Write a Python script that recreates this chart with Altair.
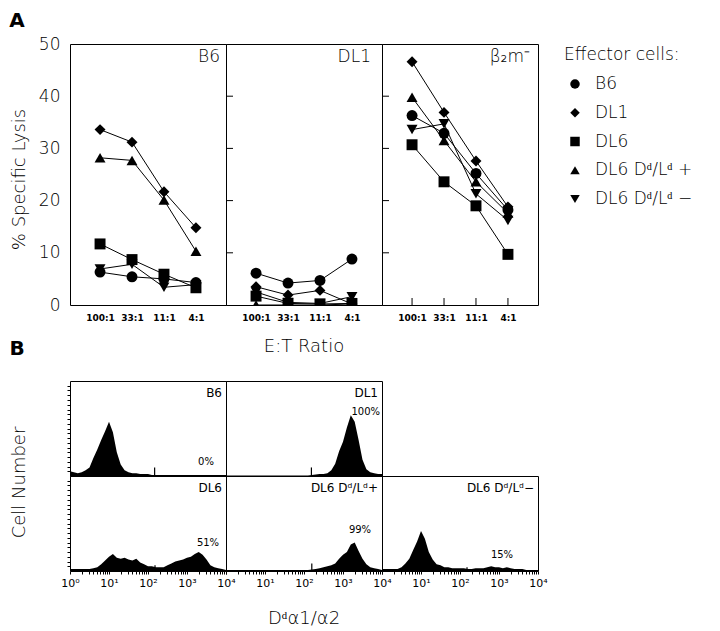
import math
import altair as alt
import pandas as pd

FONT = "DejaVu Sans"
LIGHT = 200

# ---------------- Panel A data ----------------
ratios = ["100:1", "33:1", "11:1", "4:1"]
effectors = ["B6", "DL1", "DL6", "DL6 Dᵈ/Lᵈ +", "DL6 Dᵈ/Lᵈ −"]
shapes = ["circle", "diamond", "square", "triangle-up", "triangle-down"]
targets = ["B6", "DL1", "β₂m⁻"]

# rows follow `effectors`, columns follow `ratios`
lysis_on_b6 = [
    [6.3, 5.4, 5.0, 4.3],
    [33.6, 31.2, 21.7, 14.8],
    [11.7, 8.7, 5.9, 3.3],
    [28.2, 27.7, 20.1, 10.3],
    [6.9, 7.8, 3.4, 3.9],
]
lysis_on_dl1 = [
    [6.1, 4.2, 4.7, 8.8],
    [3.5, 1.9, 2.8, 0.2],
    [1.7, 0.3, 0.2, 0.3],
    [0.0, 0.0, 0.0, 0.2],
    [2.5, 0.5, 0.3, 1.6],
]
lysis_on_b2m = [
    [36.3, 32.9, 25.2, 18.2],
    [46.6, 36.9, 27.6, 18.8],
    [30.7, 23.6, 19.0, 9.7],
    [39.8, 31.5, 23.6, 17.6],
    [33.6, 34.7, 21.3, 16.2],
]
y_ticks_a = [0, 10, 20, 30, 40, 50]
inner_ticks_a = [10, 20, 30, 40]

# ---------------- Panel B data ----------------
hist_names = ["B6", "DL1", "DL6", "DL6 Dᵈ/Lᵈ+", "DL6 Dᵈ/Lᵈ−"]
hist_pct = ["0%", "100%", "51%", "99%", "15%"]
hist_log_pos = [i / 10 for i in range(41)]  # bin positions, log10 units 0..4
hist_b6 = [5, 4, 3, 4, 6, 9, 19, 28, 38, 47, 57, 46, 25, 12, 6, 4, 3, 3, 2, 2,
           2, 1, 1, 1, 1, 1, 1, 1, 1, 1, 1, 1, 1, 1, 1, 1, 1, 1, 1, 1, 1]
hist_dl1 = [0.5, 0.5, 0.5, 0.5, 0.5, 0.5, 0.5, 0.5, 0.5, 0.5, 0.5, 0.5, 0.5, 0.5,
            0.5, 0.5, 0.5, 0.5, 0.5, 0.5, 0.5, 0.5, 1, 1.5, 2, 2, 3, 6, 13, 26,
            36, 51, 64, 57, 38, 17, 7, 4, 3, 2, 2]
hist_dl6 = [2, 2, 2, 2, 2, 2, 3, 4, 7, 11, 15, 18, 14, 13, 14, 12, 11, 13, 9, 7,
            5, 5, 4, 4, 4, 6, 8, 10, 11, 12, 14, 15, 18, 20, 17, 12, 6, 4, 3, 2, 1]
hist_dl6_pos = [1, 1, 1, 1, 1, 1, 1, 1, 1, 1, 1, 1, 1, 1, 1, 1, 1, 1, 1, 1,
                1, 1, 1.5, 2, 3, 4, 5, 6, 8, 13, 17, 20, 28, 30, 21, 13, 7, 4, 3, 2, 1]
hist_dl6_neg = [2, 2, 2, 2, 2, 4, 8, 13, 22, 31, 42, 34, 20, 12, 7, 6, 4, 4, 3, 3,
                3, 3, 2, 2, 3, 3, 3, 4, 5, 4, 4, 3, 4, 3, 2, 2, 2, 1, 1, 1, 1]
hist_values = [hist_b6, hist_dl1, hist_dl6, hist_dl6_pos, hist_dl6_neg]
spike_pos = [2.17, 2.19, 2.18, 2.20, 2.18]
spike_height = [9, 9, 6, 8, 4]
sup = {0: "⁰", 1: "¹", 2: "²", 3: "³", 4: "⁴"}

# ---------------- geometry / style ----------------
WA, HA = 156, 261
WB, HB = 156, 95
WL = 150
GAP = 76
SYM = 120

a_tables = [lysis_on_b6, lysis_on_dl1, lysis_on_b2m]
rows = []
for t, table in zip(targets, a_tables):
    for e, vals in zip(effectors, table):
        for r, v in zip(ratios, vals):
            rows.append({"target": t, "effector": e, "ratio": r, "value": v})
df_a = pd.DataFrame(rows)

shape_scale = alt.Scale(domain=effectors, range=shapes)
y_scale_a = alt.Scale(domain=[0, 50], nice=False)
x_scale_a = alt.Scale(type="point", padding=0.94)
x_axis_a = alt.Axis(title=None, labelFontSize=9, labelFontWeight="bold", labelFont=FONT,
                    labelColor="black", ticks=False, domain=False, grid=False,
                    labelPadding=8, labelAngle=0)
NOBOX = alt.ViewBackground(stroke="transparent")


def txt(text, x, y, size, align="center", weight=LIGHT, angle=0, baseline="middle"):
    return alt.Chart(pd.DataFrame({"t": [text]})).mark_text(
        align=align, baseline=baseline, fontSize=size, font=FONT, fontWeight=weight,
        angle=angle, color="black"
    ).encode(x=alt.value(x), y=alt.value(y), text="t:N")


def blank(w, h):
    return alt.Chart(pd.DataFrame({"t": [""]})).mark_text().encode(
        x=alt.value(0), y=alt.value(0), text="t:N"
    ).properties(width=w, height=h, view=NOBOX)


def a_panel(idx):
    t = targets[idx]
    d = df_a[df_a.target == t]
    if idx == 0:
        y_axis = alt.Axis(values=y_ticks_a, title="% Specific Lysis", titleFontSize=18,
                          titleFont=FONT, titleFontWeight=LIGHT, titleColor="black",
                          titleX=-51, titleY=135,
                          titleAngle=270, titleAlign="center", titleBaseline="middle",
                          labelFontSize=17, labelFont=FONT, labelFontWeight=LIGHT,
                          labelColor="black", labelPadding=10, ticks=False,
                          domain=False, grid=False)
    else:
        y_axis = None
    X = alt.X("ratio:N", sort=ratios, scale=x_scale_a, axis=x_axis_a)
    Y = alt.Y("value:Q", scale=y_scale_a, axis=y_axis)
    base = alt.Chart(d)
    lines = base.mark_line(color="black", strokeWidth=1, clip=True).encode(
        x=X, y=Y, detail="effector:N")
    pts = base.mark_point(filled=True, color="black", opacity=1, size=SYM, clip=True).encode(
        x=X, y=Y, shape=alt.Shape("effector:N", scale=shape_scale, legend=None))
    layers = [lines, pts]
    offs = [6, 11, 8][idx]
    layers.append(txt(t, WA - offs, 13, 17, align="right"))
    if idx > 0:
        tk = alt.Chart(pd.DataFrame({"value": inner_ticks_a})).mark_rule(
            color="black", strokeWidth=1).encode(
            y=Y, x=alt.value(0), x2=alt.value(7))
        layers.append(tk)
    if idx == 2:
        xt = alt.Chart(pd.DataFrame({"ratio": ratios})).mark_rule(
            color="black", strokeWidth=1).encode(
            x=X, y=alt.value(HA - 7), y2=alt.value(HA))
        layers.append(xt)
    if idx == 0:
        layers.append(txt("A", -53, -23, 20, weight="bold"))
    if idx == 1:
        layers.append(txt("E:T Ratio", WA / 2, 303, 18))
    return alt.layer(*layers).properties(width=WA, height=HA)


leg_df = pd.DataFrame({"effector": effectors})
leg_y = alt.Y("effector:N", sort=effectors,
              scale=alt.Scale(type="point", range=[40, 155], padding=0), axis=None)
leg_pts = alt.Chart(leg_df).mark_point(filled=True, color="black", opacity=1, size=90).encode(
    x=alt.value(37), y=leg_y, shape=alt.Shape("effector:N", scale=shape_scale, legend=None))
leg_txt = alt.Chart(leg_df).mark_text(align="left", baseline="middle", fontSize=17,
                                      font=FONT, fontWeight=LIGHT, color="black").encode(
    x=alt.value(57), y=leg_y, text="effector:N")
legend = alt.layer(leg_pts, leg_txt, txt("Effector cells:", 26, 11, 17, align="left")).properties(
    width=WL, height=HA, view=NOBOX)

# ---------------- Panel B ----------------
minor = []
for n in range(4):
    for k in range(1, 10):
        minor.append(round(n + math.log10(k), 4))
minor.append(4)


def label_expr(first):
    parts = []
    for n in range(0 if first else 1, 5):
        parts.append(f"datum.value === {n} ? '10{sup[n]}'")
    return " : ".join(parts) + " : ''"


def b_panel(idx, col, bottom):
    dfh = pd.DataFrame({"x": hist_log_pos, "count": hist_values[idx]})
    if bottom:
        x_axis = alt.Axis(values=minor, labelExpr=label_expr(col == 0), tickSize=3,
                          tickColor="black", labelColor="black",
                          domain=False, grid=False, title=None, labelFlush=False,
                          labelOverlap=False, labelFontSize=11, labelFont=FONT,
                          labelPadding=3, labelAngle=0)
    else:
        x_axis = None
    if col == 0:
        y_axis = alt.Axis(values=list(range(5, 100, 5)), labels=False, tickSize=3,
                          tickColor="black", domain=False, grid=False,
                          title="Cell Number" if not bottom else None,
                          titleFontSize=18, titleFont=FONT, titleFontWeight=LIGHT,
                          titleColor="black",
                          titleX=-51, titleY=101, titleAngle=270, titleAlign="center",
                          titleBaseline="middle")
    else:
        y_axis = None
    X = alt.X("x:Q", scale=alt.Scale(domain=[0, 4], nice=False, zero=False), axis=x_axis)
    Y = alt.Y("count:Q", scale=alt.Scale(domain=[0, 100], nice=False), axis=y_axis)
    area = alt.Chart(dfh).mark_area(color="black", interpolate="linear", clip=True).encode(x=X, y=Y)
    spike = alt.Chart(pd.DataFrame({"x": [spike_pos[idx]], "count": [spike_height[idx]]})).mark_rule(
        color="black", strokeWidth=1.2).encode(x=X, y=Y, y2=alt.datum(0))
    layers = [area, spike, txt(hist_names[idx], WB - 4, 12, 12, align="right", weight="normal")]
    pct_xy = [(136, 81), (WB - 2, 31), (138, 67), (134, 54), (120, 79)][idx]
    layers.append(txt(hist_pct[idx], pct_xy[0], pct_xy[1], 10,
                      align="right" if idx == 1 else "center", weight="normal"))
    if idx == 0:
        layers.append(txt("B", -53, -32, 20, weight="bold"))
    if idx == 3:
        layers.append(txt("Dᵈα1/α2", WB / 2, 143, 18))
    return alt.layer(*layers).properties(width=WB, height=HB)


cells = [
    a_panel(0), a_panel(1), a_panel(2), legend,
    blank(10, GAP), blank(10, GAP), blank(10, GAP), blank(10, GAP),
    b_panel(0, 0, False), b_panel(1, 1, False), blank(10, HB), blank(10, HB),
    b_panel(2, 0, True), b_panel(3, 1, True), b_panel(4, 2, True), blank(10, HB),
]

chart = alt.concat(*cells, columns=4, spacing=0, bounds="flush").properties(
    padding={"left": 0, "top": 2, "right": 0, "bottom": 0}
).configure(font=FONT).configure_view(stroke="black", strokeWidth=1)

chart.save("out.html", embed_options={"renderer": "svg", "actions": False})
